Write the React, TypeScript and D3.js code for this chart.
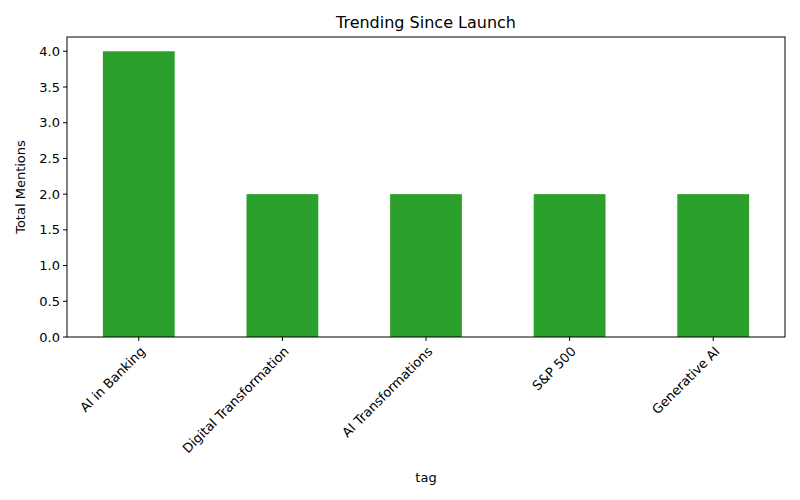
import React from "react";
import * as d3 from "d3";

const tags = ["AI in Banking", "Digital Transformation", "AI Transformations", "S&P 500", "Generative AI"];
const mentions = [4, 2, 2, 2, 2];
const yTicks = [0, 0.5, 1, 1.5, 2, 2.5, 3, 3.5, 4];

export default function App() {
  const width = 800;
  const height = 500;
  const margin = { top: 37, right: 15, bottom: 163, left: 67 };
  const innerW = width - margin.left - margin.right;
  const innerH = height - margin.top - margin.bottom;

  const x = d3.scaleBand<string>().domain(tags).range([0, innerW]).paddingInner(0.5).paddingOuter(0.25);
  const y = d3.scaleLinear().domain([0, 4.2]).range([innerH, 0]);
  const font = "DejaVu Sans, sans-serif";

  return (
    <svg width={width} height={height} style={{ position: "absolute", left: 0, top: 0, background: "#fff" }} fontFamily={font}>
      <text x={margin.left + innerW / 2} y={28} textAnchor="middle" fontSize={16} fill="#000">
        Trending Since Launch
      </text>
      <g transform={`translate(${margin.left},${margin.top})`}>
        {tags.map((t, i) => (
          <rect key={t} x={x(t)} y={y(mentions[i])} width={x.bandwidth()} height={innerH - y(mentions[i])} fill="#2ca02c" />
        ))}
        <rect x={0} y={0} width={innerW} height={innerH} fill="none" stroke="#000" strokeWidth={1} />
        {yTicks.map((v) => (
          <g key={v} transform={`translate(0,${y(v)})`}>
            <line x1={-4} x2={0} stroke="#000" />
            <text x={-7} dy="0.35em" textAnchor="end" fontSize={13} fill="#000">
              {v.toFixed(1)}
            </text>
          </g>
        ))}
        {tags.map((t) => {
          const cx = (x(t) ?? 0) + x.bandwidth() / 2;
          return (
            <g key={t} transform={`translate(${cx},${innerH})`}>
              <line y1={0} y2={4} stroke="#000" />
              <text transform="translate(4,12) rotate(-45)" textAnchor="end" dy="0.35em" fontSize={13} fill="#000">
                {t}
              </text>
            </g>
          );
        })}
      </g>
      <text x={margin.left + innerW / 2} y={482} textAnchor="middle" fontSize={13} fill="#000">
        tag
      </text>
      <text transform={`translate(25,${margin.top + innerH / 2}) rotate(-90)`} textAnchor="middle" fontSize={13} fill="#000">
        Total Mentions
      </text>
    </svg>
  );
}
